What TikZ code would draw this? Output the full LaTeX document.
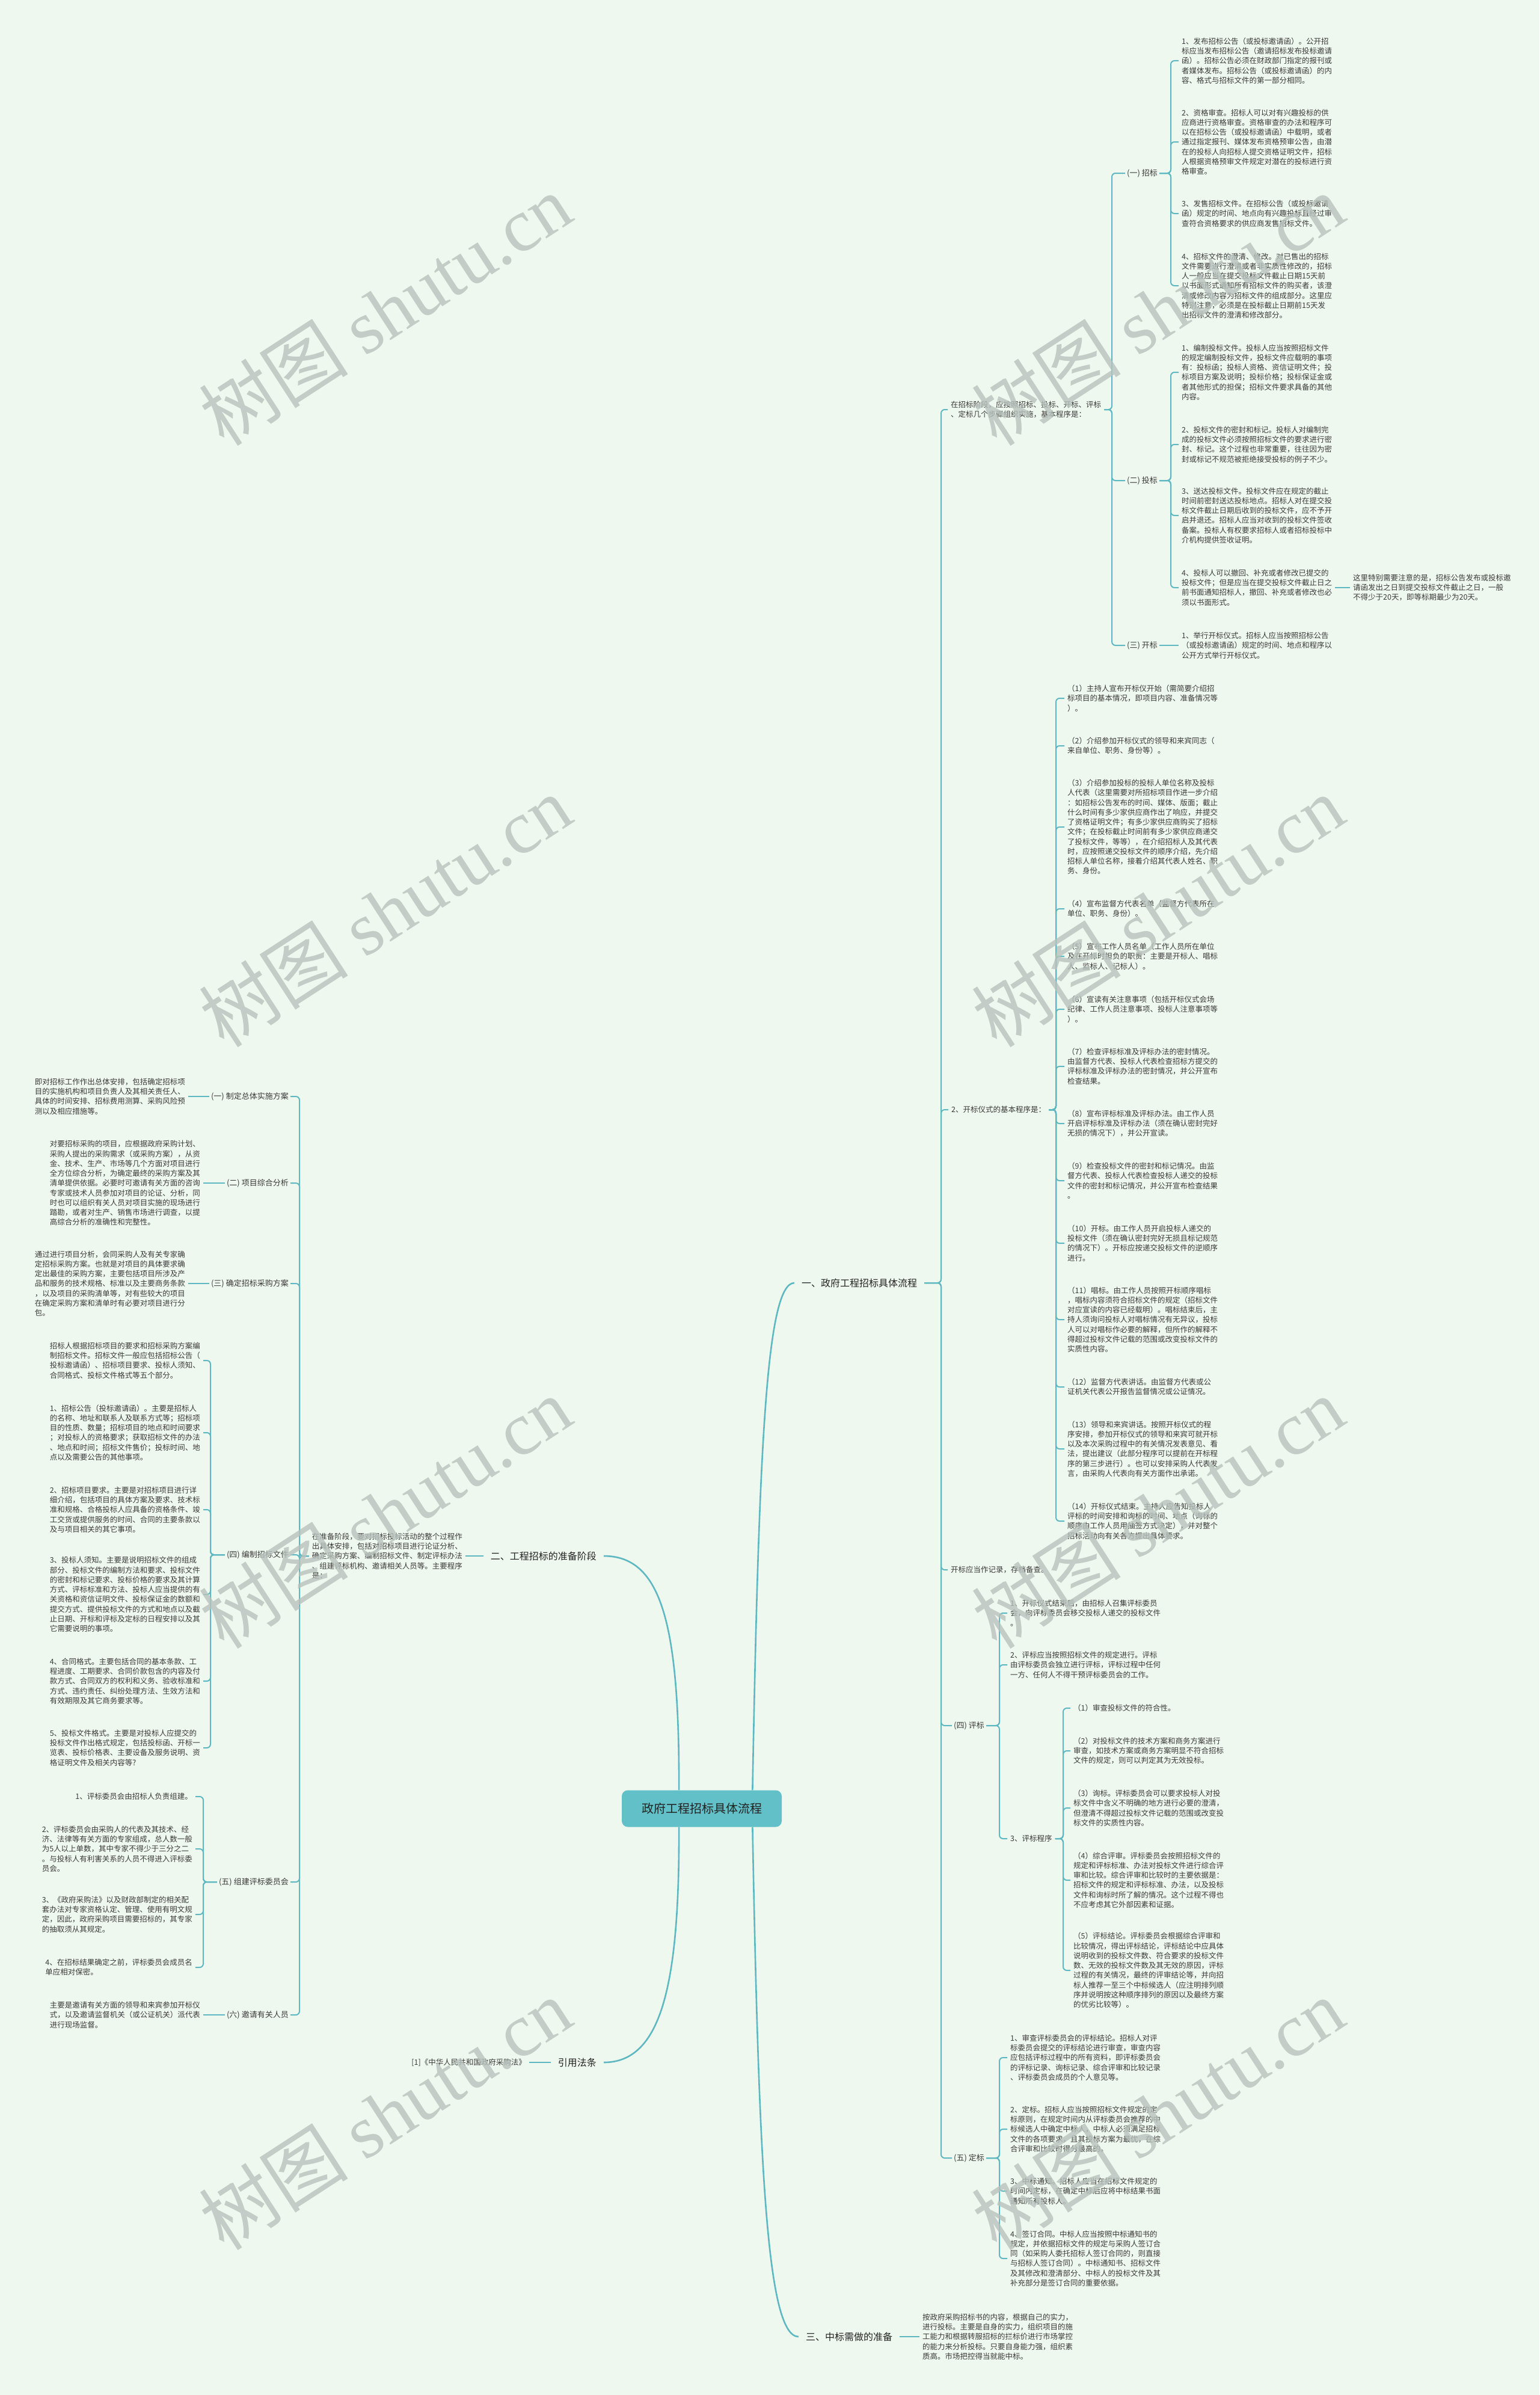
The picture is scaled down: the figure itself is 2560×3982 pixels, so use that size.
\documentclass[tikz,border=0pt]{standalone}
\usepackage{fontspec}
\setmainfont{Noto Sans CJK SC}
\newfontfamily\wmfont{Liberation Serif}
\definecolor{bgc}{HTML}{EFF8EE}
\definecolor{linkc}{HTML}{5DB8C2}
\definecolor{rootc}{HTML}{62C0C8}
\definecolor{textc}{HTML}{3A3A3A}
\definecolor{darkc}{HTML}{222222}
\definecolor{wmc}{HTML}{B8C2BC}

\begin{document}
\begin{tikzpicture}[x=1pt,y=-1pt,
  txtR/.style={anchor=west,align=left,inner xsep=5pt,inner ysep=1pt,text=textc,font=\fontsize{12.5}{16.25}\selectfont},
  txtL/.style={anchor=east,align=left,inner xsep=5pt,inner ysep=1pt,text=textc,font=\fontsize{12.5}{16.25}\selectfont},
  labR/.style={anchor=west,inner xsep=3pt,inner ysep=1pt,text=textc,font=\fontsize{13}{16}\selectfont},
  labL/.style={anchor=east,inner xsep=3pt,inner ysep=1pt,text=textc,font=\fontsize{13}{16}\selectfont},
  mainlab/.style={inner xsep=12pt,inner ysep=2pt,text=darkc,font=\fontsize{16}{20}\selectfont},
  rootbox/.style={fill=rootc,rounded corners=10pt,minimum width=266pt,minimum height=61pt,text=darkc,font=\fontsize{20}{24}\selectfont},
  branch/.style={draw=linkc,line width=2pt,rounded corners=6pt},
  trunk/.style={draw=linkc,line width=2.6pt},
  wmark/.style={rotate=33,text=wmc,opacity=.8,font=\fontsize{125}{125}\selectfont}]

  \useasboundingbox (0,0) rectangle (2560,3982);
  \fill[bgc] (0,0) rectangle (2560,3982);

  \node[rootbox] (root) at (1167,3007) {政府工程招标具体流程};

  \node[mainlab,anchor=west] (yi) at (1321,2133) {一、政府工程招标具体流程};
  \node[mainlab,anchor=east] (er) at (1004,2587) {二、工程招标的准备阶段};
  \node[mainlab,anchor=west] (san) at (1328,3885) {三、中标需做的准备};
  \node[mainlab,anchor=east] (yin) at (1004,3429) {引用法条};

  \coordinate (byi) at (1565,2133);
  \coordinate (bstage) at (1849,681);
  \coordinate (bzb) at (1947,288);
  \coordinate (btb) at (1947,799);
  \coordinate (bproc) at (1756,1845);
  \coordinate (bpb) at (1662,2869);
  \coordinate (bpbs) at (1768,3057);
  \coordinate (bdb) at (1662,3588);
  \coordinate (bzbt) at (498,2587);
  \coordinate (bla4) at (350,2585);
  \coordinate (bla5) at (338,3129);

  \node[txtR] (stage) at (1576,681) {在招标阶段，应按照招标、投标、开标、评标\\、定标几个步骤组织实施，基本程序是：};
  \node[labR] (zb) at (1871,288) {(一) 招标};
  \node[labR] (tb) at (1871,799) {(二) 投标};
  \node[labR] (kbl) at (1871,1073) {(三) 开标};

  \node[txtR] (zb1) at (1960,101) {1、发布招标公告（或投标邀请函）。公开招\\标应当发布招标公告（邀请招标发布投标邀请\\函）。招标公告必须在财政部门指定的报刊或\\者媒体发布。招标公告（或投标邀请函）的内\\容、格式与招标文件的第一部分相同。};
  \node[txtR] (zb2) at (1960,236) {2、资格审查。招标人可以对有兴趣投标的供\\应商进行资格审查。资格审查的办法和程序可\\以在招标公告（或投标邀请函）中载明，或者\\通过指定报刊、媒体发布资格预审公告，由潜\\在的投标人向招标人提交资格证明文件，招标\\人根据资格预审文件规定对潜在的投标进行资\\格审查。};
  \node[txtR] (zb3) at (1960,355) {3、发售招标文件。在招标公告（或投标邀请\\函）规定的时间、地点向有兴趣投标且经过审\\查符合资格要求的供应商发售招标文件。};
  \node[txtR] (zb4) at (1960,475) {4、招标文件的澄清、修改。对已售出的招标\\文件需要进行澄清或者非实质性修改的，招标\\人一般应当在提交投标文件截止日期15天前\\以书面形式通知所有招标文件的购买者，该澄\\清或修改内容为招标文件的组成部分。这里应\\特别注意，必须是在投标截止日期前15天发\\出招标文件的澄清和修改部分。};

  \node[txtR] (tb1) at (1960,619) {1、编制投标文件。投标人应当按照招标文件\\的规定编制投标文件，投标文件应载明的事项\\有：投标函；投标人资格、资信证明文件；投\\标项目方案及说明；投标价格；投标保证金或\\者其他形式的担保；招标文件要求具备的其他\\内容。};
  \node[txtR] (tb2) at (1960,739) {2、投标文件的密封和标记。投标人对编制完\\成的投标文件必须按照招标文件的要求进行密\\封、标记。这个过程也非常重要，往往因为密\\封或标记不规范被拒绝接受投标的例子不少。};
  \node[txtR] (tb3) at (1960,857) {3、送达投标文件。投标文件应在规定的截止\\时间前密封送达投标地点。招标人对在提交投\\标文件截止日期后收到的投标文件，应不予开\\启并退还。招标人应当对收到的投标文件签收\\备案。投标人有权要求招标人或者招标投标中\\介机构提供签收证明。};
  \node[txtR] (tb4) at (1960,977) {4、投标人可以撤回、补充或者修改已提交的\\投标文件；但是应当在提交投标文件截止日之\\前书面通知招标人，撤回、补充或者修改也必\\须以书面形式。};
  \node[txtR] (tbn) at (2245,977) {这里特别需要注意的是，招标公告发布或投标邀\\请函发出之日到提交投标文件截止之日，一般\\不得少于20天，即等标期最少为20天。};
  \node[txtR] (kb1) at (1960,1073) {1、举行开标仪式。招标人应当按照招标公告\\（或投标邀请函）规定的时间、地点和程序以\\公开方式举行开标仪式。};

  \node[txtR] (proc) at (1577,1845) {2、开标仪式的基本程序是：};
  \node[txtR] (p1) at (1770,1161) {（1）主持人宣布开标仪开始（需简要介绍招\\标项目的基本情况，即项目内容、准备情况等\\）。};
  \node[txtR] (p2) at (1770,1240) {（2）介绍参加开标仪式的领导和来宾同志（\\来自单位、职务、身份等）。};
  \node[txtR] (p3) at (1770,1375) {（3）介绍参加投标的投标人单位名称及投标\\人代表（这里需要对所招标项目作进一步介绍\\：如招标公告发布的时间、媒体、版面；截止\\什么时间有多少家供应商作出了响应，并提交\\了资格证明文件；有多少家供应商购买了招标\\文件；在投标截止时间前有多少家供应商递交\\了投标文件，等等），在介绍招标人及其代表\\时，应按照递交投标文件的顺序介绍，先介绍\\招标人单位名称，接着介绍其代表人姓名、职\\务、身份。};
  \node[txtR] (p4) at (1770,1511) {（4）宣布监督方代表名单（监督方代表所在\\单位、职务、身份）。};
  \node[txtR] (p5) at (1770,1590) {（5）宣布工作人员名单（工作人员所在单位\\及在开标时担负的职责：主要是开标人、唱标\\人、监标人、记标人）。};
  \node[txtR] (p6) at (1770,1678) {（6）宣读有关注意事项（包括开标仪式会场\\纪律、工作人员注意事项、投标人注意事项等\\）。};
  \node[txtR] (p7) at (1770,1773) {（7）检查评标标准及评标办法的密封情况。\\由监督方代表、投标人代表检查招标方提交的\\评标标准及评标办法的密封情况，并公开宣布\\检查结果。};
  \node[txtR] (p8) at (1770,1868) {（8）宣布评标标准及评标办法。由工作人员\\开启评标标准及评标办法（须在确认密封完好\\无损的情况下），并公开宣读。};
  \node[txtR] (p9) at (1770,1963) {（9）检查投标文件的密封和标记情况。由监\\督方代表、投标人代表检查投标人递交的投标\\文件的密封和标记情况，并公开宣布检查结果\\。};
  \node[txtR] (p10) at (1770,2067) {（10）开标。由工作人员开启投标人递交的\\投标文件（须在确认密封完好无损且标记规范\\的情况下）。开标应按递交投标文件的逆顺序\\进行。};
  \node[txtR] (p11) at (1770,2194) {（11）唱标。由工作人员按照开标顺序唱标\\，唱标内容须符合招标文件的规定（招标文件\\对应宣读的内容已经载明）。唱标结束后，主\\持人须询问投标人对唱标情况有无异议，投标\\人可以对唱标作必要的解释，但所作的解释不\\得超过投标文件记载的范围或改变投标文件的\\实质性内容。};
  \node[txtR] (p12) at (1770,2306) {（12）监督方代表讲话。由监督方代表或公\\证机关代表公开报告监督情况或公证情况。};
  \node[txtR] (p13) at (1770,2409) {（13）领导和来宾讲话。按照开标仪式的程\\序安排，参加开标仪式的领导和来宾可就开标\\以及本次采购过程中的有关情况发表意见、看\\法，提出建议（此部分程序可以提前在开标程\\序的第三步进行）。也可以安排采购人代表发\\言，由采购人代表向有关方面作出承诺。};
  \node[txtR] (p14) at (1770,2529) {（14）开标仪式结束。主持人应告知投标人\\评标的时间安排和询标的时间、地点（询标的\\顺序由工作人员用抽签方式决定），并对整个\\招标活动向有关各方提出具体要求。};

  \node[txtR] (rec) at (1576,2610) {开标应当作记录，存档备查。};

  \node[labR] (pb) at (1583,2869) {(四) 评标};
  \node[txtR] (pb1) at (1675,2682) {1、开标仪式结束后，由招标人召集评标委员\\会，向评标委员会移交投标人递交的投标文件\\。};
  \node[txtR] (pb2) at (1675,2768) {2、评标应当按照招标文件的规定进行。评标\\由评标委员会独立进行评标，评标过程中任何\\一方、任何人不得干预评标委员会的工作。};
  \node[txtR] (pbs) at (1675,3057) {3、评标程序};
  \node[txtR] (ps1) at (1780,2840) {（1）审查投标文件的符合性。};
  \node[txtR] (ps2) at (1780,2911) {（2）对投标文件的技术方案和商务方案进行\\审查，如技术方案或商务方案明显不符合招标\\文件的规定，则可以判定其为无效投标。};
  \node[txtR] (ps3) at (1780,3006) {（3）询标。评标委员会可以要求投标人对投\\标文件中含义不明确的地方进行必要的澄清，\\但澄清不得超过投标文件记载的范围或改变投\\标文件的实质性内容。};
  \node[txtR] (ps4) at (1780,3126) {（4）综合评审。评标委员会按照招标文件的\\规定和评标标准、办法对投标文件进行综合评\\审和比较。综合评审和比较时的主要依据是：\\招标文件的规定和评标标准、办法，以及投标\\文件和询标时所了解的情况。这个过程不得也\\不应考虑其它外部因素和证据。};
  \node[txtR] (ps5) at (1780,3276) {（5）评标结论。评标委员会根据综合评审和\\比较情况，得出评标结论，评标结论中应具体\\说明收到的投标文件数、符合要求的投标文件\\数、无效的投标文件数及其无效的原因，评标\\过程的有关情况，最终的评审结论等，并向招\\标人推荐一至三个中标候选人（应注明排列顺\\序并说明按这种顺序排列的原因以及最终方案\\的优劣比较等）。};

  \node[labR] (db) at (1583,3588) {(五) 定标};
  \node[txtR] (db1) at (1675,3421) {1、审查评标委员会的评标结论。招标人对评\\标委员会提交的评标结论进行审查，审查内容\\应包括评标过程中的所有资料，即评标委员会\\的评标记录、询标记录、综合评审和比较记录\\、评标委员会成员的个人意见等。};
  \node[txtR] (db2) at (1675,3540) {2、定标。招标人应当按照招标文件规定的定\\标原则，在规定时间内从评标委员会推荐的中\\标候选人中确定中标人，中标人必须满足招标\\文件的各项要求，且其投标方案为最优，在综\\合评审和比较时得分最高的。};
  \node[txtR] (db3) at (1675,3643) {3、中标通知。招标人应当在招标文件规定的\\时间内定标，在确定中标后应将中标结果书面\\通知所有投标人。};
  \node[txtR] (db4) at (1675,3755) {4、签订合同。中标人应当按照中标通知书的\\规定，并依据招标文件的规定与采购人签订合\\同（如采购人委托招标人签订合同的，则直接\\与招标人签订合同）。中标通知书、招标文件\\及其修改和澄清部分、中标人的投标文件及其\\补充部分是签订合同的重要依据。};

  \node[txtR] (sant) at (1529,3885) {按政府采购招标书的内容，根据自己的实力，\\进行投标。主要是自身的实力，组织项目的施\\工能力和根据转服招标的拦标价进行市场掌控\\的能力来分析投标。只要自身能力强，组织素\\质高。市场把控得当就能中标。};

  \node[txtL] (zbt) at (774,2587) {在准备阶段，要对招标投标活动的整个过程作\\出具体安排，包括对招标项目进行论证分析、\\确定采购方案、编制招标文件、制定评标办法\\、组建评标机构、邀请相关人员等。主要程序\\是：};
  \node[labL] (la1) at (483,1823) {(一) 制定总体实施方案};
  \node[labL] (la2) at (483,1967) {(二) 项目综合分析};
  \node[labL] (la3) at (483,2134) {(三) 确定招标采购方案};
  \node[labL] (la4) at (483,2585) {(四) 编制招标文件};
  \node[labL] (la5) at (483,3129) {(五) 组建评标委员会};
  \node[labL] (la6) at (483,3350) {(六) 邀请有关人员};

  \node[txtL] (lt1) at (313,1823) {即对招标工作作出总体安排，包括确定招标项\\目的实施机构和项目负责人及其相关责任人、\\具体的时间安排、招标费用测算、采购风险预\\测以及相应措施等。};
  \node[txtL] (lt2) at (338,1967) {对要招标采购的项目，应根据政府采购计划、\\采购人提出的采购需求（或采购方案），从资\\金、技术、生产、市场等几个方面对项目进行\\全方位综合分析，为确定最终的采购方案及其\\清单提供依据。必要时可邀请有关方面的咨询\\专家或技术人员参加对项目的论证、分析，同\\时也可以组织有关人员对项目实施的现场进行\\踏勘，或者对生产、销售市场进行调查，以提\\高综合分析的准确性和完整性。};
  \node[txtL] (lt3) at (313,2134) {通过进行项目分析，会同采购人及有关专家确\\定招标采购方案。也就是对项目的具体要求确\\定出最佳的采购方案，主要包括项目所涉及产\\品和服务的技术规格、标准以及主要商务条款\\，以及项目的采购清单等，对有些较大的项目\\在确定采购方案和清单时有必要对项目进行分\\包。};
  \node[txtL] (lc0) at (338,2262) {招标人根据招标项目的要求和招标采购方案编\\制招标文件。招标文件一般应包括招标公告（\\投标邀请函）、招标项目要求、投标人须知、\\合同格式、投标文件格式等五个部分。};
  \node[txtL] (lc1) at (338,2382) {1、招标公告（投标邀请函）。主要是招标人\\的名称、地址和联系人及联系方式等；招标项\\目的性质、数量；招标项目的地点和时间要求\\；对投标人的资格要求；获取招标文件的办法\\、地点和时间；招标文件售价；投标时间、地\\点以及需要公告的其他事项。};
  \node[txtL] (lc2) at (338,2510) {2、招标项目要求。主要是对招标项目进行详\\细介绍，包括项目的具体方案及要求、技术标\\准和规格、合格投标人应具备的资格条件、竣\\工交货或提供服务的时间、合同的主要条款以\\及与项目相关的其它事项。};
  \node[txtL] (lc3) at (338,2651) {3、投标人须知。主要是说明招标文件的组成\\部分、投标文件的编制方法和要求、投标文件\\的密封和标记要求、投标价格的要求及其计算\\方式、评标标准和方法、投标人应当提供的有\\关资格和资信证明文件、投标保证金的数额和\\提交方式、提供投标文件的方式和地点以及截\\止日期、开标和评标及定标的日程安排以及其\\它需要说明的事项。};
  \node[txtL] (lc4) at (338,2795) {4、合同格式。主要包括合同的基本条款、工\\程进度、工期要求、合同价款包含的内容及付\\款方式、合同双方的权利和义务、验收标准和\\方式、违约责任、纠纷处理方法、生效方法和\\有效期限及其它商务要求等。};
  \node[txtL] (lc5) at (338,2906) {5、投标文件格式。主要是对投标人应提交的\\投标文件作出格式规定，包括投标函、开标一\\览表、投标价格表、主要设备及服务说明、资\\格证明文件及相关内容等?};
  \node[txtL] (le1) at (325,2987) {1、评标委员会由招标人负责组建。};
  \node[txtL] (le2) at (325,3074) {2、评标委员会由采购人的代表及其技术、经\\济、法律等有关方面的专家组成，总人数一般\\为5人以上单数，其中专家不得少于三分之二\\。与投标人有利害关系的人员不得进入评标委\\员会。};
  \node[txtL] (le3) at (325,3183) {3、《政府采购法》以及财政部制定的相关配\\套办法对专家资格认定、管理、使用有明文规\\定，因此，政府采购项目需要招标的，其专家\\的抽取须从其规定。};
  \node[txtL] (le4) at (325,3271) {4、在招标结果确定之前，评标委员会成员名\\单应相对保密。};
  \node[txtL] (lt6) at (338,3350) {主要是邀请有关方面的领导和来宾参加开标仪\\式，以及邀请监督机关（或公证机关）派代表\\进行现场监督。};

  \node[txtL] (cite) at (880,3429) {[1]《中华人民共和国政府采购法》};

  \draw[trunk] (root.20) .. controls (1262,2400) and (1275,2133) .. (yi.west);
  \draw[trunk] (root.-20) .. controls (1262,3600) and (1275,3885) .. (san.west);
  \draw[trunk] (root.141) .. controls (1130,2700) and (1100,2587) .. (er.east);
  \draw[trunk] (root.219) .. controls (1130,3300) and (1100,3429) .. (yin.east);

  \foreach \c in {stage,proc,rec,pb,db}
    \draw[branch] (yi.east) -- (byi) |- (\c.west);
  \foreach \c in {zb,tb,kbl}
    \draw[branch] (stage.east) -- (bstage) |- (\c.west);
  \foreach \i in {1,...,4}
    \draw[branch] (zb.east) -- (bzb) |- (zb\i.west);
  \foreach \i in {1,...,4}
    \draw[branch] (tb.east) -- (btb) |- (tb\i.west);
  \draw[branch] (tb4.east) -- (tbn.west);
  \draw[branch] (kbl.east) -- (kb1.west);
  \foreach \i in {1,...,14}
    \draw[branch] (proc.east) -- (bproc) |- (p\i.west);
  \foreach \c in {pb1,pb2,pbs}
    \draw[branch] (pb.east) -- (bpb) |- (\c.west);
  \foreach \i in {1,...,5}
    \draw[branch] (pbs.east) -- (bpbs) |- (ps\i.west);
  \foreach \i in {1,...,4}
    \draw[branch] (db.east) -- (bdb) |- (db\i.west);
  \draw[branch] (san.east) -- (sant.west);

  \draw[branch] (er.west) -- (zbt.east);
  \foreach \i in {1,...,6}
    \draw[branch] (zbt.west) -- (bzbt) |- (la\i.east);
  \draw[branch] (la1.west) -- (lt1.east);
  \draw[branch] (la2.west) -- (lt2.east);
  \draw[branch] (la3.west) -- (lt3.east);
  \foreach \i in {0,...,5}
    \draw[branch] (la4.west) -- (bla4) |- (lc\i.east);
  \foreach \i in {1,...,4}
    \draw[branch] (la5.west) -- (bla5) |- (le\i.east);
  \draw[branch] (la6.west) -- (lt6.east);
  \draw[branch] (yin.west) -- (cite.east);

  \foreach \wx in {640,1925}
    \foreach \wy in {515,1515,2515,3515}
      \node[wmark] (wm-\wx-\wy) at (\wx,\wy) {树图 {\wmfont shutu.cn}};
\end{tikzpicture}
\end{document}
